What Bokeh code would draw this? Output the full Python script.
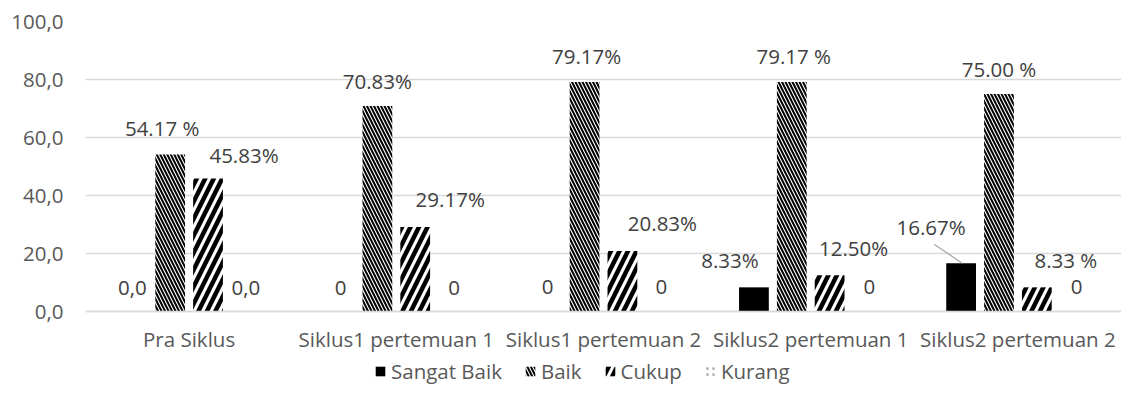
from bokeh.plotting import figure
from bokeh.models import (ColumnDataSource, FactorRange, Range1d, FixedTicker,
                          Legend, LegendItem)
from bokeh.transform import dodge
from bokeh.core.properties import value
from bokeh.embed import file_html
from bokeh.resources import INLINE

# ---------------- data ----------------
categories = ["Pra Siklus", "Siklus1 pertemuan 1", "Siklus1 pertemuan 2",
              "Siklus2 pertemuan 1", "Siklus2 pertemuan 2"]
series_names = ["Sangat Baik", "Baik", "Cukup", "Kurang"]

sangat_baik = [0.0, 0.0, 0.0, 8.33, 16.67]
baik = [54.17, 70.83, 79.17, 79.17, 75.00]
cukup = [45.83, 29.17, 20.83, 12.50, 8.33]
kurang = [0.0, 0.0, 0.0, 0.0, 0.0]

sangat_baik_labels = ["0,0", "0", "0", "8.33%", "16.67%"]
baik_labels = ["54.17 %", "70.83%", "79.17%", "79.17 %", "75.00 %"]
cukup_labels = ["45.83%", "29.17%", "20.83%", "12.50%", "8.33 %"]
kurang_labels = ["0,0", "0", "0", "0", "0"]

y_ticks = [0, 20, 40, 60, 80, 100]
y_tick_labels = ["0,0", "20,0", "40,0", "60,0", "80,0", "100,0"]

series_values = [sangat_baik, baik, cukup, kurang]
series_labels = [sangat_baik_labels, baik_labels, cukup_labels, kurang_labels]

# ---------------- styles / layout ----------------
FONT = "Open Sans"
FS = "20.5px"
AXIS_COLOR = "#595959"
LABEL_COLOR = "#404040"
GRID_COLOR = "#d9d9d9"

W, H = 1121, 385
BORDER_L, BORDER_T = 85, 21
ZERO_Y = 311                       # pixel row of the value 0 line
FRAME_W = W - BORDER_L
FRAME_H = H - BORDER_T
px_per_cat = FRAME_W / len(categories)
px_per_unit = (ZERO_Y - BORDER_T) / 100.0
y_start = -(H - ZERO_Y) / px_per_unit   # room under the axis for labels + legend

bar_width = 0.1437
offsets = [-0.274, -0.0913, 0.0913, 0.274]

styles = [
    dict(fill_color="black"),
    dict(fill_color="white", hatch_pattern="left_diagonal_line", hatch_color="black",
         hatch_scale=7, hatch_weight=2),
    dict(fill_color="white", hatch_pattern="right_diagonal_line", hatch_color="black",
         hatch_scale=17, hatch_weight=4.5),
    dict(fill_color="white", hatch_pattern="dot", hatch_color="#b8b8b8",
         hatch_scale=6, hatch_weight=1),
]

# manual data-label nudges (pixels): horizontal shift, height above bar top
label_dx = [[0, 1, 1, -24, -30],
            [-8, 0, 2, 2, 0],
            [36, 35, 40, 24, 29],
            [0, 1, 1, 2, 2]]
label_up = [[24, 24, 25, 27, 36],
            [26, 25, 26, 26, 25],
            [24, 28, 28, 27, 27],
            [24, 24, 25, 25, 25]]

# leader line: (series index, category index, start dx px, start up px, end dx px)
leaders = [(0, 4, -27, 19, 1)]

p = figure(x_range=FactorRange(*categories, range_padding=0),
           y_range=Range1d(y_start, 100),
           width=W, height=H,
           min_border_left=BORDER_L, min_border_right=0,
           min_border_top=BORDER_T, min_border_bottom=0,
           output_backend="svg", toolbar_location=None)
p.outline_line_color = None
p.background_fill_color = "white"
p.border_fill_color = "white"

# axes
p.yaxis.ticker = FixedTicker(ticks=y_ticks)
p.yaxis.major_label_overrides = {t: l for t, l in zip(y_ticks, y_tick_labels)}
p.yaxis.axis_line_color = None
p.yaxis.major_tick_line_color = None
p.yaxis.minor_tick_line_color = None
p.yaxis.major_tick_out = 0
p.yaxis.major_tick_in = 0
p.yaxis.major_label_standoff = 22
p.yaxis.major_label_text_font = FONT
p.yaxis.major_label_text_font_size = FS
p.yaxis.major_label_text_color = AXIS_COLOR

p.xaxis.fixed_location = 0
p.xaxis.axis_line_color = GRID_COLOR
p.xaxis.axis_line_width = 1.5
p.xaxis.major_tick_line_color = None
p.xaxis.minor_tick_line_color = None
p.xaxis.major_tick_out = 0
p.xaxis.major_tick_in = 0
p.xaxis.major_label_standoff = 13
p.xaxis.major_label_text_font = FONT
p.xaxis.major_label_text_font_size = FS
p.xaxis.major_label_text_color = AXIS_COLOR

p.xgrid.grid_line_color = None
p.ygrid.grid_line_color = GRID_COLOR
p.ygrid.grid_line_width = 1.5

# bars
renderers = []
for i, name in enumerate(series_names):
    src = ColumnDataSource(dict(x=categories, top=series_values[i]))
    r = p.vbar(x=dodge("x", offsets[i], range=p.x_range), top="top", width=bar_width,
               source=src, line_color=None, **styles[i])
    renderers.append(r)

# data labels
for i, name in enumerate(series_names):
    src = ColumnDataSource(dict(x=categories, y=series_values[i], text=series_labels[i],
                                xo=label_dx[i], yo=[-u for u in label_up[i]]))
    p.text(x=dodge("x", offsets[i], range=p.x_range), y="y", text="text",
           x_offset="xo", y_offset="yo", source=src,
           text_align="center", text_baseline="middle",
           text_font=value(FONT), text_font_size=value(FS), text_color=LABEL_COLOR)

# leader lines
for (si, ci, sdx, sup, edx) in leaders:
    v = series_values[si][ci]
    src = ColumnDataSource(dict(x=[categories[ci]], y0=[v + sup / px_per_unit], y1=[v]))
    p.segment(x0=dodge("x", offsets[si] + sdx / px_per_cat, range=p.x_range), y0="y0",
              x1=dodge("x", offsets[si] + edx / px_per_cat, range=p.x_range), y1="y1",
              source=src, line_color="#a6a6a6", line_width=1.2)

# legend (inside the frame, under the category labels)
legend = Legend(items=[LegendItem(label=n, renderers=[r]) for n, r in zip(series_names, renderers)],
                orientation="horizontal", location=(289, 0),
                glyph_width=12, glyph_height=12, spacing=22, label_standoff=5,
                padding=2, margin=0, border_line_color=None, background_fill_alpha=0,
                label_text_font=FONT, label_text_font_size=FS,
                label_text_color=AXIS_COLOR)
p.add_layout(legend)

open("out.html", "w").write(file_html(p, INLINE))
